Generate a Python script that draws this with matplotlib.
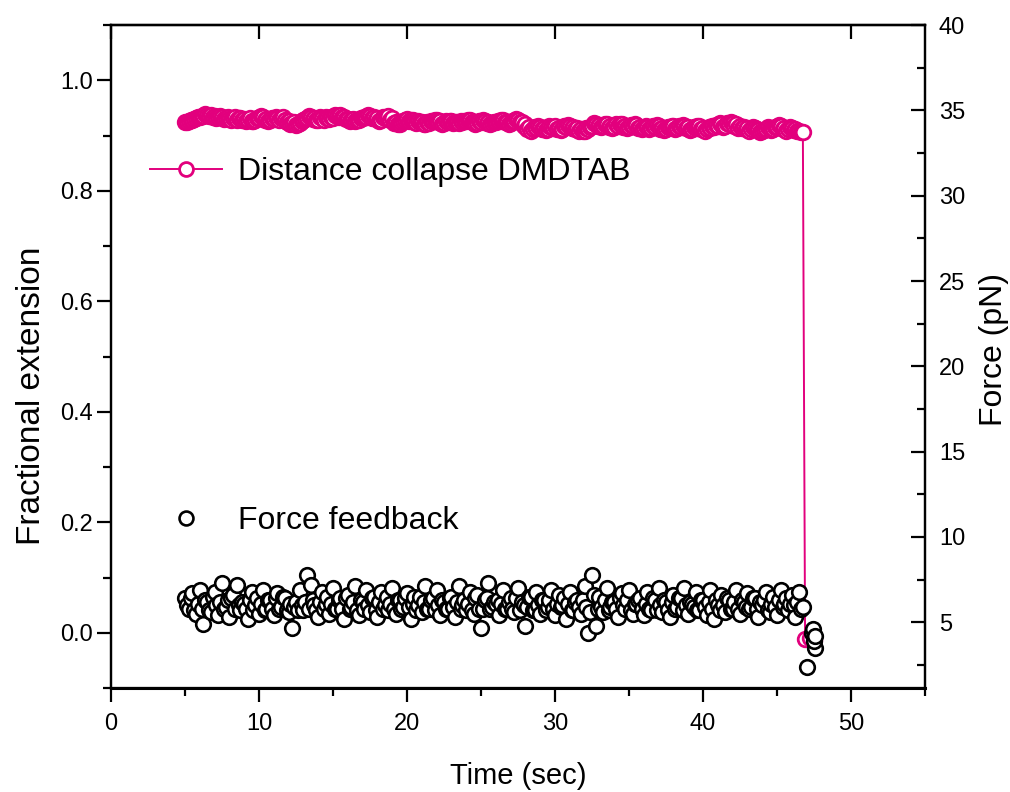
import numpy as np
import matplotlib
matplotlib.use('Agg')
import matplotlib.pyplot as plt
from matplotlib.ticker import MultipleLocator
from matplotlib.lines import Line2D

plt.rcParams['font.family'] = ['Liberation Sans', 'DejaVu Sans']

# ---------------- data ----------------
# sampling grid: 5.00 s to 46.75 s every 0.25 s, plus an interleaved grid offset by 0.125 s
t_start, t_step, n_pts = 5.0, 0.25, 168
t_grid = np.round(t_start + t_step * np.arange(n_pts), 3)
t_grid_b = np.round(t_grid[:-1] + t_step / 2, 3)

# fractional extension (left axis)
dist_plateau = [
    0.924, 0.926, 0.928, 0.931,  0.934, 0.936, 0.938, 0.937,
    0.935, 0.933, 0.934, 0.932,  0.930, 0.931, 0.929, 0.932,
    0.930, 0.928, 0.926, 0.929,  0.931, 0.933, 0.930, 0.928,
    0.930, 0.932, 0.931, 0.929,  0.926, 0.922, 0.919, 0.923,
    0.928, 0.932, 0.934, 0.931,  0.929, 0.931, 0.933, 0.930,
    0.932, 0.935, 0.937, 0.933,  0.930, 0.928, 0.926, 0.929,
    0.931, 0.933, 0.936, 0.934,  0.931, 0.929, 0.932, 0.935,
    0.931, 0.924, 0.921, 0.926,  0.930, 0.928, 0.925, 0.927,
    0.924, 0.921, 0.923, 0.926,  0.928, 0.926, 0.923, 0.925,
    0.927, 0.924, 0.922, 0.925,  0.926, 0.928, 0.925, 0.923,
    0.925, 0.927, 0.924, 0.922,  0.924, 0.926, 0.928, 0.925,
    0.923, 0.926, 0.929, 0.925,  0.920, 0.915, 0.911, 0.913,
    0.916, 0.914, 0.912, 0.915,  0.917, 0.914, 0.912, 0.916,
    0.918, 0.916, 0.913, 0.911,  0.909, 0.912, 0.918, 0.921,
    0.919, 0.917, 0.920, 0.918,  0.916, 0.918, 0.920, 0.917,
    0.915, 0.917, 0.919, 0.916,  0.914, 0.916, 0.913, 0.915,
    0.917, 0.914, 0.912, 0.915,  0.917, 0.914, 0.916, 0.918,
    0.915, 0.912, 0.914, 0.917,  0.914, 0.911, 0.913, 0.916,
    0.918, 0.920, 0.917, 0.921,  0.923, 0.920, 0.917, 0.915,
    0.913, 0.911, 0.914, 0.910,  0.908, 0.911, 0.914, 0.912,
    0.915, 0.917, 0.913, 0.911,  0.914, 0.912, 0.909, 0.907,
]
dist_plateau_b = [
    0.925, 0.929, 0.930, 0.933,  0.935, 0.939, 0.936, 0.934,
    0.931, 0.935, 0.930, 0.934,  0.928, 0.933, 0.931, 0.929,
    0.927, 0.931, 0.927, 0.932,  0.935, 0.929, 0.927, 0.932,
    0.933, 0.928, 0.933, 0.925,  0.920, 0.924, 0.921, 0.926,
    0.930, 0.936, 0.930, 0.928,  0.933, 0.929, 0.932, 0.934,
    0.937, 0.933, 0.934, 0.930,  0.926, 0.930, 0.928, 0.932,
    0.934, 0.938, 0.932, 0.930,  0.927, 0.933, 0.934, 0.929,
    0.922, 0.920, 0.925, 0.929,  0.926, 0.929, 0.923, 0.925,
    0.920, 0.924, 0.927, 0.929,  0.924, 0.921, 0.927, 0.926,
    0.922, 0.925, 0.926, 0.927,  0.929, 0.924, 0.921, 0.926,
    0.928, 0.923, 0.920, 0.925,  0.927, 0.929, 0.924, 0.921,
    0.927, 0.930, 0.924, 0.918,  0.912, 0.909, 0.915, 0.918,
    0.912, 0.910, 0.917, 0.913,  0.912, 0.910, 0.917, 0.919,
    0.914, 0.911, 0.909, 0.908,  0.914, 0.916, 0.922, 0.917,
    0.915, 0.921, 0.916, 0.914,  0.920, 0.921, 0.915, 0.913,
    0.919, 0.921, 0.914, 0.912,  0.918, 0.911, 0.917, 0.919,
    0.912, 0.910, 0.916, 0.918,  0.912, 0.918, 0.919, 0.913,
    0.910, 0.916, 0.918, 0.912,  0.909, 0.915, 0.918, 0.919,
    0.922, 0.916, 0.923, 0.924,  0.918, 0.914, 0.913, 0.911,
    0.909, 0.915, 0.912, 0.907,  0.910, 0.915, 0.910, 0.916,
    0.919, 0.912, 0.909, 0.915,  0.910, 0.908, 0.906,
]
t_collapse = [46.9, 47.2, 47.5]
dist_collapse = [-0.012, -0.010, -0.013]

# force feedback (right axis, pN)
force_plateau = [
    6.4, 5.8, 6.7, 5.5,  6.9, 4.9, 6.2, 5.6,  6.8, 5.4, 7.3, 5.9,
    5.3, 6.6, 7.2, 5.7,  6.1, 5.2, 6.8, 6.0,  5.5, 6.9, 5.8, 6.3,
    5.4, 6.7, 5.9, 6.4,  5.6, 4.65, 6.2, 6.9, 5.7, 7.8, 7.2, 6.0,
    5.3, 6.8, 6.1, 5.5,  7.0, 5.8, 6.4, 5.2,  6.6, 5.9, 7.1, 5.4,
    6.2, 6.9, 5.6, 6.5,  5.3, 6.8, 6.0, 5.7,  7.0, 5.5, 6.3, 5.9,
    6.7, 5.2, 6.5, 6.0,  5.6, 7.1, 5.8, 6.4,  6.9, 5.4, 6.2, 5.8,
    6.5, 5.3, 7.1, 6.0,  5.7, 6.8, 5.5, 6.6,  4.65, 6.3, 7.3, 5.9,
    6.1, 5.4, 6.9, 5.8,  6.4, 5.6, 7.0, 6.2,  4.8, 6.5, 5.7, 6.8,
    5.5, 6.3, 5.9, 6.9,  5.4, 6.6, 6.0, 5.2,  6.8, 5.7, 6.3, 5.5,
    7.1, 4.35, 7.75, 4.8, 6.5, 5.6, 7.0, 5.9, 6.2, 5.3, 6.7, 5.8,
    6.9, 5.5, 6.1, 6.4,  5.4, 6.8, 5.7, 6.3,  7.0, 5.6, 6.2, 5.3,
    6.6, 5.9, 6.4, 7.0,  5.5, 6.1, 6.8, 5.7,  6.3, 5.4, 6.9, 5.2,
    6.0, 6.6, 5.6, 6.3,  5.8, 6.9, 5.5, 6.2,  6.7, 5.9, 6.4, 5.3,
    6.0, 6.8, 5.6, 6.5,  5.4, 6.9, 6.1, 5.7,  6.6, 5.3, 6.8, 5.9,
]
force_plateau_b = [
    6.0, 6.4, 5.7, 6.1,  5.8, 6.3, 5.7, 6.5,  6.0, 6.2, 5.8, 6.3,
    6.4, 5.8, 6.0, 6.2,  5.8, 6.3, 5.7, 6.4,  6.1, 5.7, 6.3, 5.8,
    6.4, 5.8, 6.5, 5.7,  6.1, 5.9, 5.7, 6.0,  6.2, 5.8, 6.3, 5.7,
    6.2, 5.8, 6.5, 6.1,  5.8, 6.3, 5.8, 6.4,  5.8, 6.2, 5.7, 6.3,
    5.8, 6.0, 6.4, 5.7,  6.2, 5.8, 6.5, 6.1,  5.8, 6.3, 5.8, 6.4,
    5.9, 6.1, 5.7, 6.5,  6.2, 5.8, 6.3, 5.7,  6.0, 6.3, 5.8, 6.4,
    5.9, 6.2, 5.8, 6.3,  6.1, 5.7, 6.4, 5.8,  5.8, 6.4, 5.8, 6.2,
    6.3, 6.1, 5.8, 6.2,  5.8, 6.4, 5.7, 6.0,  5.9, 6.5, 5.7, 6.0,
    6.3, 5.7, 6.3, 5.8,  6.1, 5.9, 6.4, 6.1,  5.7, 6.2, 5.9, 6.3,
    5.9, 5.6, 6.6, 5.8,  5.9, 6.3, 5.7, 6.2,  5.8, 6.4, 6.0, 6.3,
    5.7, 6.1, 6.3, 5.8,  6.1, 5.8, 6.4, 5.7,  6.0, 6.3, 5.7, 6.2,
    5.8, 6.4, 5.7, 6.0,  6.2, 5.9, 5.7, 6.3,  5.9, 6.2, 5.8, 6.3,
    5.7, 6.0, 6.4, 5.8,  6.2, 5.8, 6.3, 5.9,  5.8, 6.4, 5.8, 6.2,
    6.3, 5.7, 6.1, 5.9,  6.3, 5.9, 6.4, 6.1,  6.0, 6.2, 5.8,
]
t_force_drop = [47.0, 47.35, 47.45, 47.55, 47.5, 47.6]
force_drop = [2.4, 4.4, 4.6, 3.5, 3.9, 4.2]

x_ticks = [0, 10, 20, 30, 40, 50]
left_ticks = [0.0, 0.2, 0.4, 0.6, 0.8, 1.0]
right_ticks = [5, 10, 15, 20, 25, 30, 35, 40]

label_dist = 'Distance collapse DMDTAB'
label_force = 'Force feedback'

PINK = '#E2007D'

# merge the two interleaved readings into time order
def merge(ta, ya, tb, yb):
    t = np.concatenate([ta, tb])
    y = np.concatenate([ya, yb])
    order = np.argsort(t, kind='stable')
    return t[order], y[order]

t_dist, dist = merge(t_grid, dist_plateau, t_grid_b, dist_plateau_b)
t_dist = np.concatenate([t_dist, t_collapse])
dist = np.concatenate([dist, dist_collapse])

t_force, force = merge(t_grid, force_plateau, t_grid_b, force_plateau_b)
t_force = np.concatenate([t_force, t_force_drop])
force = np.concatenate([force, force_drop])

# ---------------- figure ----------------
fig = plt.figure(figsize=(10.1, 7.92), dpi=100)
ax = fig.add_axes([0.1099, 0.1313, 0.8059, 0.8371])

ax.plot(t_dist, dist, color=PINK, lw=1.4, marker='o', ms=10.5,
        mfc='white', mec=PINK, mew=2.0, zorder=3)

ax2 = ax.twinx()
ax2.plot(t_force, force, ls='none', marker='o', ms=10.5,
         mfc='white', mec='black', mew=1.9, zorder=3)

ax.set_xlim(0, 55)
ax.set_ylim(-0.1, 1.1)
ax2.set_ylim(1.15, 40)

ax.set_xticks(x_ticks)
ax.xaxis.set_minor_locator(MultipleLocator(5))
ax.set_yticks(left_ticks)
ax.set_yticklabels([f'{v:.1f}' for v in left_ticks])
ax.yaxis.set_minor_locator(MultipleLocator(0.1))
ax2.set_yticks(right_ticks)
ax2.yaxis.set_minor_locator(MultipleLocator(2.5))

ax.tick_params(axis='x', which='major', direction='out', length=10, width=1.6,
               labelsize=17, pad=8)
ax.tick_params(axis='x', which='minor', direction='out', length=6, width=1.6)
ax.tick_params(axis='y', which='major', direction='out', length=10, width=1.6,
               labelsize=17, pad=3)
ax.tick_params(axis='y', which='minor', direction='out', length=6, width=1.6)
ax2.tick_params(axis='y', which='major', direction='in', length=10, width=1.6,
                labelsize=17, pad=10)
ax2.tick_params(axis='y', which='minor', direction='in', length=6, width=1.6)

secx = ax.secondary_xaxis('top')
secx.set_xticks(x_ticks)
secx.tick_params(direction='in', length=10, width=1.6, labeltop=False)

for a in (ax, ax2):
    for s in a.spines.values():
        s.set_linewidth(1.6)
ax.spines['bottom'].set_linewidth(2.2)
secx.spines['top'].set_linewidth(1.6)

ax.set_xlabel('Time (sec)', fontsize=21)
ax.xaxis.set_label_coords(0.5, -0.112)
ax.set_ylabel('Fractional extension', fontsize=24)
ax.yaxis.set_label_coords(-0.079, 0.44)
ax2.set_ylabel('Force (pN)', fontsize=23)
ax2.yaxis.set_label_coords(1.066, 0.51)

h_dist = Line2D([], [], color=PINK, lw=1.4, marker='o', ms=10,
                mfc='white', mec=PINK, mew=2.0)
h_force = Line2D([], [], ls='none', marker='o', ms=10,
                 mfc='white', mec='black', mew=1.9)
leg1 = ax2.legend([h_dist], [label_dist], loc='center left',
                  bbox_to_anchor=(0.0479, 0.778), frameon=False, fontsize=23,
                  handlelength=2.25, handletextpad=0.5, borderpad=0,
                  borderaxespad=0, numpoints=1)
ax2.add_artist(leg1)
ax2.legend([h_force], [label_force], loc='center left',
           bbox_to_anchor=(0.0479, 0.252), frameon=False, fontsize=23,
           handlelength=2.25, handletextpad=0.5, borderpad=0,
           borderaxespad=0, numpoints=1)

fig.savefig('out.png', dpi=100)
